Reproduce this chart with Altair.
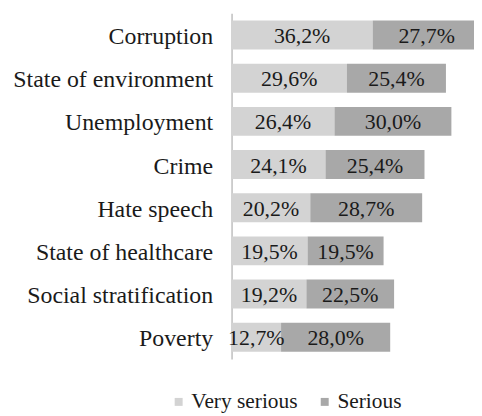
import altair as alt
import pandas as pd

categories = ["Corruption", "State of environment", "Unemployment", "Crime",
              "Hate speech", "State of healthcare", "Social stratification", "Poverty"]
very_serious = [36.2, 29.6, 26.4, 24.1, 20.2, 19.5, 19.2, 12.7]
serious = [27.7, 25.4, 30.0, 25.4, 28.7, 19.5, 22.5, 28.0]
series = ["Very serious", "Serious"]
colors = ["#d3d3d3", "#a8a8a8"]

rows = []
for c, v, s in zip(categories, very_serious, serious):
    rows.append({"category": c, "series": series[0], "value": v, "ord": 0})
    rows.append({"category": c, "series": series[1], "value": s, "ord": 1})
df = pd.DataFrame(rows)

FONT = "Liberation Serif"

base = alt.Chart(df).transform_stack(
    stack="value", groupby=["category"], as_=["x0", "x1"],
    sort=[alt.SortField("ord", order="ascending")]
).transform_calculate(
    mid="(datum.x0 + datum.x1) / 2",
    label="replace(format(datum.value, '.1f'), '.', ',') + '%'"
)

y = alt.Y("category:N", sort=categories, title=None,
          scale=alt.Scale(paddingInner=0.33, paddingOuter=0.17),
          axis=alt.Axis(labelFont=FONT, labelFontSize=24, labelColor="#1a1a1a",
                        labelPadding=19, ticks=False, domainColor="#bfbfbf",
                        domainWidth=1.5, labelLimit=400, labelOffset=2))

xscale = alt.Scale(domain=[0, 62.2], nice=False, zero=True)

bars = base.mark_bar(clip=True).encode(
    y=y,
    x=alt.X("x0:Q", scale=xscale, axis=None),
    x2="x1:Q",
    color=alt.Color("series:N", scale=alt.Scale(domain=series, range=colors),
                    sort=series,
                    legend=alt.Legend(title=None, orient="none", direction="horizontal",
                                      legendX=-64, legendY=380,
                                      labelFont=FONT, labelFontSize=21.5,
                                      labelColor="#1a1a1a",
                                      symbolType="square", symbolSize=64,
                                      symbolStrokeWidth=0, labelOffset=2,
                                      columnPadding=16)),
)

texts = base.mark_text(font=FONT, fontSize=22, color="#1a1a1a", baseline="middle",
                       align="center", dy=1).encode(
    y=alt.Y("category:N", sort=categories),
    x=alt.X("mid:Q", scale=xscale),
    text="label:N",
)

chart = alt.layer(bars, texts).properties(
    width=244, height=348,
    padding={"left": 4, "top": 4, "right": 0, "bottom": 0},
).configure_view(stroke=None)

chart.save("out.html", embed_options={"renderer": "svg", "actions": False})
